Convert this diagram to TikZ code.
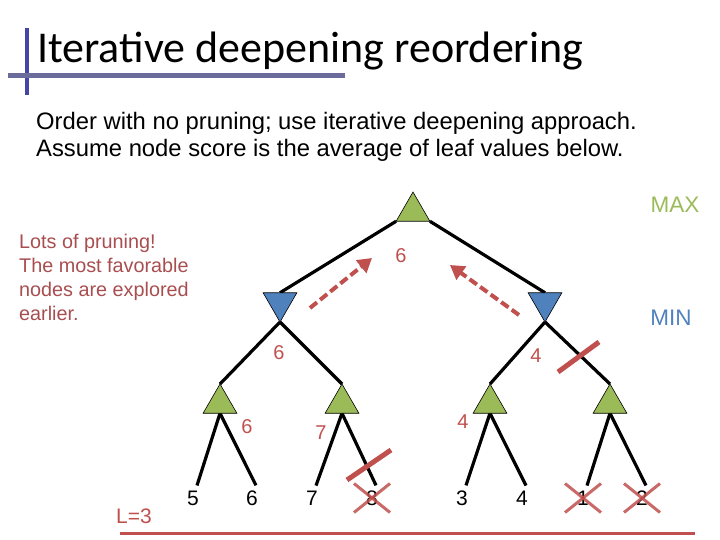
\documentclass[tikz,border=0pt]{standalone}
\usepackage{fontspec}
\setmainfont{Liberation Sans}
\newfontfamily\titlefont{Carlito}
\usetikzlibrary{shapes.geometric,arrows.meta,backgrounds}
\definecolor{accred}{HTML}{C0504D}
\definecolor{notered}{HTML}{A84E50}
\definecolor{maxgreen}{HTML}{9BBB59}
\definecolor{minblue}{HTML}{4F81BD}
\definecolor{barblue}{HTML}{4545A8}
\definecolor{bargray}{HTML}{6C6C9C}
\tikzset{
  maxnode/.style={regular polygon, regular polygon sides=3, minimum size=39pt,
    inner sep=0pt, outer sep=0pt, fill=maxgreen, draw=black, line width=0.6pt},
  minnode/.style={maxnode, fill=minblue, shape border rotate=180},
  edge/.style={line width=3.2pt, black},
  leafval/.style={font=\fontsize{21}{25}\selectfont, inner xsep=0pt, inner ysep=5pt, text=black},
  val/.style={font=\fontsize{20}{24}\selectfont, inner sep=0pt, text=accred},
  backarrow/.style={line width=4pt, accred, dash pattern=on 9pt off 4pt,
    -{Triangle[length=14pt,width=16pt]}},
  cutmark/.style={line width=5pt, accred},
  crossmark/.style={line width=3pt, accred, opacity=0.85}
}
\begin{document}
\begin{tikzpicture}[x=1pt,y=-1pt]
\useasboundingbox (0,0) rectangle (720,540);
% title
\draw[barblue, line width=3.5pt] (27,28) -- (27,95);
\draw[bargray, line width=5pt] (8,76) -- (345,76);
\node[anchor=base west, inner sep=0pt, font=\titlefont\fontsize{44}{50}\selectfont] (title) at (37,63) {Iterative deepening reordering};
\node[anchor=base west, inner sep=0pt, align=left, font=\fontsize{23.8}{27}\selectfont] (sub) at (36,157)
  {Order with no pruning; use iterative deepening approach.\\Assume node score is the average of leaf values below.};
\node[anchor=base west, inner sep=0pt, align=left, text=notered, font=\fontsize{19.8}{24}\selectfont] (note) at (19,320)
  {Lots of pruning!\\The most favorable\\nodes are explored\\earlier.};
\node[text=maxgreen, font=\fontsize{22.5}{26}\selectfont, inner sep=0pt] (maxlbl) at (675,205) {MAX};
\node[text=minblue, font=\fontsize{22.5}{26}\selectfont, inner sep=0pt] (minlbl) at (671,318) {MIN};
% tree nodes
\node[maxnode] (root) at (413,211.5) {};
\node[minnode] (lmin) at (280,302.5) {};
\node[minnode] (rmin) at (545,302.5) {};
\node[maxnode] (m1) at (220,403.5) {};
\node[maxnode] (m2) at (342,403.5) {};
\node[maxnode] (m3) at (490,403.5) {};
\node[maxnode] (m4) at (610,403.5) {};
% leaves
\node[leafval] (l1) at (193,498) {5};
\node[leafval] (l2) at (252,498) {6};
\node[leafval] (l3) at (312,498) {7};
\node[leafval] (l4) at (372,498) {8};
\node[leafval] (l5) at (462,498) {3};
\node[leafval] (l6) at (522,498) {4};
\node[leafval] (l7) at (583,498) {1};
\node[leafval] (l8) at (642,498) {2};
% edges
\begin{scope}[on background layer]
\draw[edge] (root.corner 2) -- (lmin.north);
\draw[edge] (root.corner 3) -- (rmin.north);
\draw[edge] (lmin.south) -- (m1.north);
\draw[edge] (lmin.south) -- (m2.north);
\draw[edge] (rmin.south) -- (m3.north);
\draw[edge] (rmin.south) -- (m4.north);
\foreach \p/\a/\b in {m1/l1/l2, m2/l3/l4, m3/l5/l6, m4/l7/l8}{
  \draw[edge] (\p.south) -- ([xshift=4pt]\a.north);
  \draw[edge] (\p.south) -- ([xshift=4pt]\b.north);
}
\end{scope}
% values
\node[val] (v0) at (401,256) {6};
\node[val] (v1) at (279,353) {6};
\node[val] (v2) at (536,356) {4};
\node[val] (v3) at (247,427) {6};
\node[val] (v4) at (321,433) {7};
\node[val] (v5) at (463,422) {4};
% reorder arrows
\coordinate (a1s) at (310,308); \coordinate (a1e) at (372,258);
\coordinate (a2s) at (519,315); \coordinate (a2e) at (450,265);
\draw[backarrow] (a1s) -- (a1e);
\draw[backarrow] (a2s) -- (a2e);
% cut marks
\coordinate (c1a) at (558,372); \coordinate (c1b) at (599,342);
\coordinate (c2a) at (347,480); \coordinate (c2b) at (391,450);
\draw[cutmark] (c1a) -- (c1b);
\draw[cutmark] (c2a) -- (c2b);
% crosses
\foreach \n in {l4,l7,l8}{
  \draw[crossmark] ([shift={(-18,-14.5)}]\n.center) -- ([shift={(18,14.5)}]\n.center);
  \draw[crossmark] ([shift={(-18,14.5)}]\n.center) -- ([shift={(18,-14.5)}]\n.center);
}
% depth line
\node[text=accred, font=\fontsize{21}{25}\selectfont, inner sep=0pt] (depth) at (134,516) {L=3};
\coordinate (dl) at (120,533); \coordinate (dr) at (695,533);
\draw[accred, line width=3pt] (dl) -- (dr);
\end{tikzpicture}
\end{document}
